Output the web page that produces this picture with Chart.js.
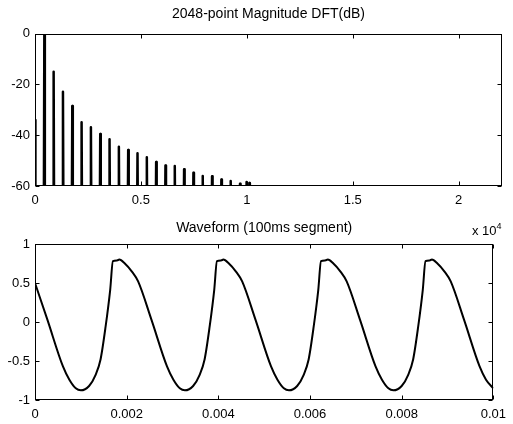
<!DOCTYPE html>
<html lang="en">
<head>
<meta charset="UTF-8">
<title>DFT and waveform</title>
<script src="https://cdn.jsdelivr.net/npm/chart.js"></script>
<style>
    body { margin: 0; background: #fff; }
    .plot { position: absolute; left: 0; width: 513px; height: 212px; }
    #exp { position: absolute; left: 472px; top: 220px; font: 13px "Liberation Sans", Arial, sans-serif; line-height: 14px; color: #000; }
    #exp sup { font-size: 9px; position: relative; top: -1px; }
</style>
</head>
<body>
<div class="plot" style="top:0"><canvas id="dft" width="513" height="212"></canvas></div>
<div class="plot" style="top:212px"><canvas id="wave" width="513" height="212"></canvas></div>
<div id="exp">x 10<sup>4</sup></div>

<script>
// spectrum peaks (Hz, dB)
const peakHz = [440, 880, 1320, 1760, 2200, 2640, 3080, 3520, 3960, 4400, 4840, 5280,
                5720, 6160, 6600, 7040, 7480, 7920, 8360, 8800, 9240, 9680, 9990, 10120];
const peakDb = [-0.7, -15.0, -22.9, -28.5, -34.9, -36.9, -39.5, -41.6, -44.6, -45.8, -47.1, -48.7,
                -50.6, -51.9, -52.1, -53.4, -54.8, -56.1, -56.2, -57.4, -58.0, -59.1, -58.4, -58.8];
const dcDb = -34;
const dftTicksHz = [0, 5000, 10000, 15000, 20000];

// waveform samples (s, amplitude)
const waveT = [0, 0.00027, 0.00061, 0.00075, 0.00089, 0.001, 0.00118, 0.00132, 0.00143, 0.00154, 0.00164, 0.0017, 0.00179,
    0.00184, 0.00196, 0.00211, 0.00225, 0.00254, 0.00288, 0.00302, 0.00316, 0.00327, 0.00345, 0.00359, 0.0037, 0.00381, 0.00391, 0.00397, 0.00406,
    0.00411, 0.00423, 0.00438, 0.00452, 0.00481, 0.00515, 0.00529, 0.00543, 0.00554, 0.00572, 0.00586, 0.00597, 0.00608, 0.00618, 0.00624, 0.00633,
    0.00639, 0.00651, 0.00666, 0.0068, 0.00709, 0.00743, 0.00757, 0.00771, 0.00782, 0.008, 0.00814, 0.00825, 0.00836, 0.00846, 0.00852, 0.00861,
    0.00866, 0.00878, 0.00893, 0.00907, 0.00936, 0.0097, 0.00984, 0.01];
const waveV = [0.5, 0.03, -0.57, -0.74, -0.85, -0.876, -0.82, -0.68, -0.48, -0.06, 0.41, 0.78, 0.79,
    0.8, 0.75, 0.65, 0.52, 0.03, -0.57, -0.74, -0.85, -0.876, -0.82, -0.68, -0.48, -0.06, 0.41, 0.78, 0.79,
    0.8, 0.75, 0.65, 0.52, 0.03, -0.57, -0.74, -0.85, -0.876, -0.82, -0.68, -0.48, -0.06, 0.41, 0.78, 0.79,
    0.8, 0.75, 0.65, 0.52, 0.03, -0.57, -0.74, -0.85, -0.876, -0.82, -0.68, -0.48, -0.06, 0.41, 0.78, 0.79,
    0.8, 0.75, 0.65, 0.52, 0.03, -0.57, -0.74, -0.85];

const FONT = '"Liberation Sans", Arial, sans-serif';
Chart.defaults.font.family = FONT;
Chart.defaults.font.size = 13;
Chart.defaults.color = '#000';
Chart.defaults.animation = false;

// matlab style box with inward ticks on all four sides
const boxTicks = {
    id: 'boxTicks',
    afterDraw(chart) {
        const { ctx, chartArea: a, scales } = chart;
        const L = Math.round(a.left) + 0.5, R = Math.round(a.right) - 0.5;
        const T = Math.round(a.top) + 0.5, B = Math.round(a.bottom) - 0.5;
        ctx.save();
        ctx.strokeStyle = '#000';
        ctx.lineWidth = 1;
        ctx.beginPath();
        scales.x.ticks.forEach(t => {
            const p = Math.round(scales.x.getPixelForValue(t.value)) + 0.5;
            ctx.moveTo(p, B); ctx.lineTo(p, B - 4);
            ctx.moveTo(p, T); ctx.lineTo(p, T + 4);
        });
        scales.y.ticks.forEach(t => {
            const p = Math.round(scales.y.getPixelForValue(t.value)) + 0.5;
            ctx.moveTo(L, p); ctx.lineTo(L + 4, p);
            ctx.moveTo(R, p); ctx.lineTo(R - 4, p);
        });
        ctx.stroke();
        ctx.strokeRect(L, T, R - L, B - T);
        ctx.restore();
    }
};

function axisOpts(extra) {
    return Object.assign({
        type: 'linear',
        grid: { display: false, drawTicks: false },
        border: { display: false }
    }, extra);
}

// spectrum line: each peak is a narrow spike from below the axis floor
const dftData = [{ x: 0, y: dcDb }, { x: 20, y: -80 }];
peakHz.forEach((f, i) => {
    dftData.push({ x: f - 25, y: -80 }, { x: f, y: peakDb[i] }, { x: f + 25, y: -80 });
});
dftData.push({ x: 22050, y: -80 });

new Chart(document.getElementById('dft'), {
    type: 'line',
    data: {
        datasets: [{
            data: dftData,
            borderColor: '#000',
            borderWidth: 2.5,
            borderJoinStyle: 'round',
            pointRadius: 0,
            tension: 0
        }]
    },
    options: {
        responsive: false,
        layout: { padding: { left: 0, right: 11, top: 0, bottom: 0 } },
        plugins: {
            legend: { display: false },
            tooltip: { enabled: false },
            title: {
                display: true,
                fullSize: false,
                text: '2048-point Magnitude DFT(dB)',
                font: { size: 14, weight: 'normal' },
                color: '#000',
                padding: { top: 6, bottom: 10.7 }
            }
        },
        scales: {
            x: axisOpts({
                min: 0, max: 22050,
                afterBuildTicks: s => { s.ticks = dftTicksHz.map(v => ({ value: v })); },
                ticks: { padding: 7, maxRotation: 0, callback: v => String(v / 10000) },
                afterFit: s => { s.height = 26; }
            }),
            y: axisOpts({
                min: -60, max: 0,
                ticks: { stepSize: 20, padding: 5, callback: v => String(v) },
                afterFit: s => { s.width = 35; }
            })
        }
    },
    plugins: [boxTicks]
});

new Chart(document.getElementById('wave'), {
    type: 'line',
    data: {
        datasets: [{
            data: waveT.map((t, i) => ({ x: t, y: waveV[i] })),
            borderColor: '#000',
            borderWidth: 2,
            pointRadius: 0,
            cubicInterpolationMode: 'monotone'
        }]
    },
    options: {
        responsive: false,
        layout: { padding: { left: 0, right: 11, top: 0, bottom: 0 } },
        plugins: {
            legend: { display: false },
            tooltip: { enabled: false },
            title: {
                display: true,
                fullSize: false,
                text: 'Waveform (100ms segment)',
                font: { size: 14, weight: 'normal' },
                color: '#000',
                padding: { top: 7.6, bottom: 7.6 }
            }
        },
        scales: {
            x: axisOpts({
                min: 0, max: 0.01,
                ticks: { stepSize: 0.002, padding: 7, maxRotation: 0,
                         callback: v => String(+v.toFixed(3)) },
                afterFit: s => { s.height = 24; }
            }),
            y: axisOpts({
                min: -1, max: 1,
                ticks: { stepSize: 0.5, padding: 5, callback: v => String(+v.toFixed(1)) },
                afterFit: s => { s.width = 35; }
            })
        }
    },
    plugins: [boxTicks]
});
</script>
</body>
</html>
